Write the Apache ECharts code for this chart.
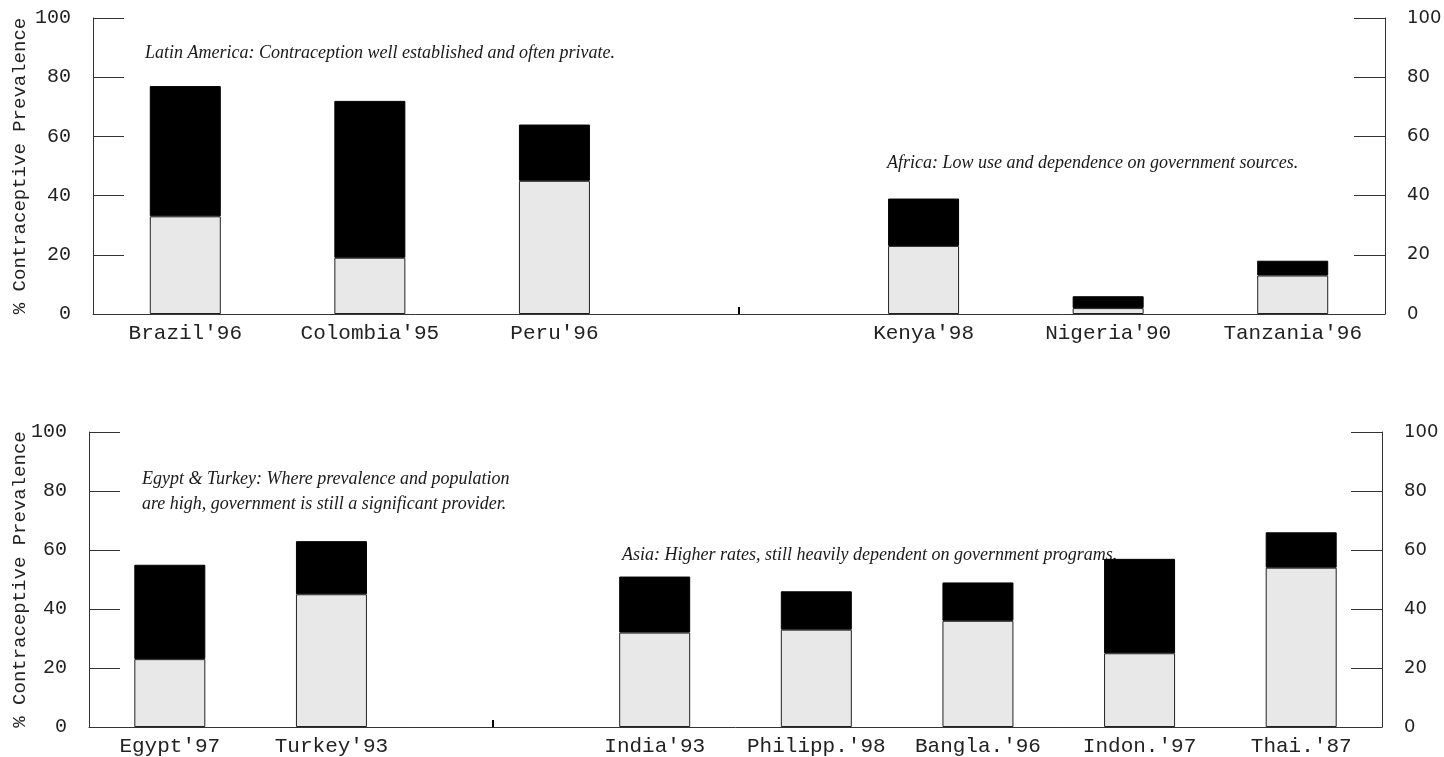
<!DOCTYPE html>
<html>
<head>
<meta charset="utf-8">
<script src="https://cdn.jsdelivr.net/npm/echarts@6/dist/echarts.min.js"></script>
<style>
html,body{margin:0;padding:0;background:#fff;}
#chart{width:1444px;height:757px;}
</style>
</head>
<body>
<div id="chart"></div>
<script>
// ---- data ----
var topCategories = ["Brazil'96", "Colombia'95", "Peru'96", "", "Kenya'98", "Nigeria'90", "Tanzania'96"];
var topGovernment = [33, 19, 45, null, 23, 2, 13];
var topPrivate    = [44, 53, 19, null, 16, 4, 5];

var bottomCategories = ["Egypt'97", "Turkey'93", "", "India'93", "Philipp.'98", "Bangla.'96", "Indon.'97", "Thai.'87"];
var bottomGovernment = [23, 45, null, 32, 33, 36, 25, 54];
var bottomPrivate    = [32, 18, null, 19, 13, 13, 32, 12];

var yMin = 0, yMax = 100, yStep = 20;
var yTitle = "% Contraceptive Prevalence";

var notes = [
  "Latin America: Contraception well established and often private.",
  "Africa: Low use and dependence on government sources.",
  "Egypt & Turkey: Where prevalence and population\nare high, government is still a significant provider.",
  "Asia: Higher rates, still heavily dependent on government programs."
];

// ---- chart ----
var chart = echarts.init(document.getElementById('chart'));
var axisColor = '#333';
var monoFont = 'Liberation Mono';
var sansFont = 'DejaVu Sans';

function xAxisDef(gridIndex, cats) {
  var blank = cats.indexOf("");
  return {
    type: 'category', gridIndex: gridIndex, data: cats,
    axisLine: {show: true, lineStyle: {color: axisColor, width: 1}},
    axisTick: {show: true, inside: true, length: 7, alignWithLabel: true,
               interval: function (i) { return i === blank; },
               lineStyle: {color: '#000', width: 2}},
    axisLabel: {interval: 0, margin: 9, fontFamily: monoFont, fontSize: 21, color: '#222'},
    splitLine: {show: false}
  };
}
function yAxisDef(gridIndex, pos, gap) {
  var left = pos === 'left';
  return {
    type: 'value', gridIndex: gridIndex, position: pos,
    min: yMin, max: yMax, interval: yStep,
    name: left ? yTitle : '',
    nameLocation: 'middle', nameRotate: 90, nameGap: gap, nameMoveOverlap: false,
    nameTextStyle: {fontFamily: monoFont, fontSize: 19, color: '#222'},
    axisLine: {show: true, lineStyle: {color: axisColor, width: 1}},
    axisTick: {show: true, inside: true, length: 31, lineStyle: {color: axisColor, width: 1}},
    axisLabel: {margin: 22, fontFamily: left ? monoFont : sansFont, fontSize: left ? 20 : 18, color: '#222'},
    splitLine: {show: false}
  };
}
function barSeries(name, xi, yi, data, stack, color, border) {
  return {
    name: name, type: 'bar', xAxisIndex: xi, yAxisIndex: yi, stack: stack,
    data: data, barWidth: 71,
    itemStyle: {color: color, borderColor: border, borderWidth: 1},
    emphasis: {disabled: true}, animation: false
  };
}

var noteStyle = {fontFamily: 'Liberation Serif', fontStyle: 'italic', fontSize: 18, fill: '#1a1a1a', lineHeight: 25};

chart.setOption({
  backgroundColor: '#fff',
  animation: false,
  grid: [
    {left: 93, right: 59, top: 18, height: 296, containLabel: false, outerBoundsMode: 'none'},
    {left: 89, right: 62, top: 432, height: 295, containLabel: false, outerBoundsMode: 'none'}
  ],
  xAxis: [xAxisDef(0, topCategories), xAxisDef(1, bottomCategories)],
  yAxis: [yAxisDef(0, 'left', 64), yAxisDef(0, 'right', 0), yAxisDef(1, 'left', 60), yAxisDef(1, 'right', 0)],
  series: [
    barSeries('Government', 0, 0, topGovernment, 'top', '#e8e8e8', '#222'),
    barSeries('Private', 0, 0, topPrivate, 'top', '#000', '#000'),
    barSeries('Government', 1, 2, bottomGovernment, 'bottom', '#e8e8e8', '#222'),
    barSeries('Private', 1, 2, bottomPrivate, 'bottom', '#000', '#000')
  ],
  graphic: [
    {type: 'text', left: 145, top: 41, style: Object.assign({text: notes[0]}, noteStyle)},
    {type: 'text', left: 887, top: 151, style: Object.assign({text: notes[1]}, noteStyle)},
    {type: 'text', left: 142, top: 467, style: Object.assign({text: notes[2]}, noteStyle)},
    {type: 'text', left: 622, top: 543, style: Object.assign({text: notes[3]}, noteStyle)}
  ]
});
</script>
</body>
</html>
